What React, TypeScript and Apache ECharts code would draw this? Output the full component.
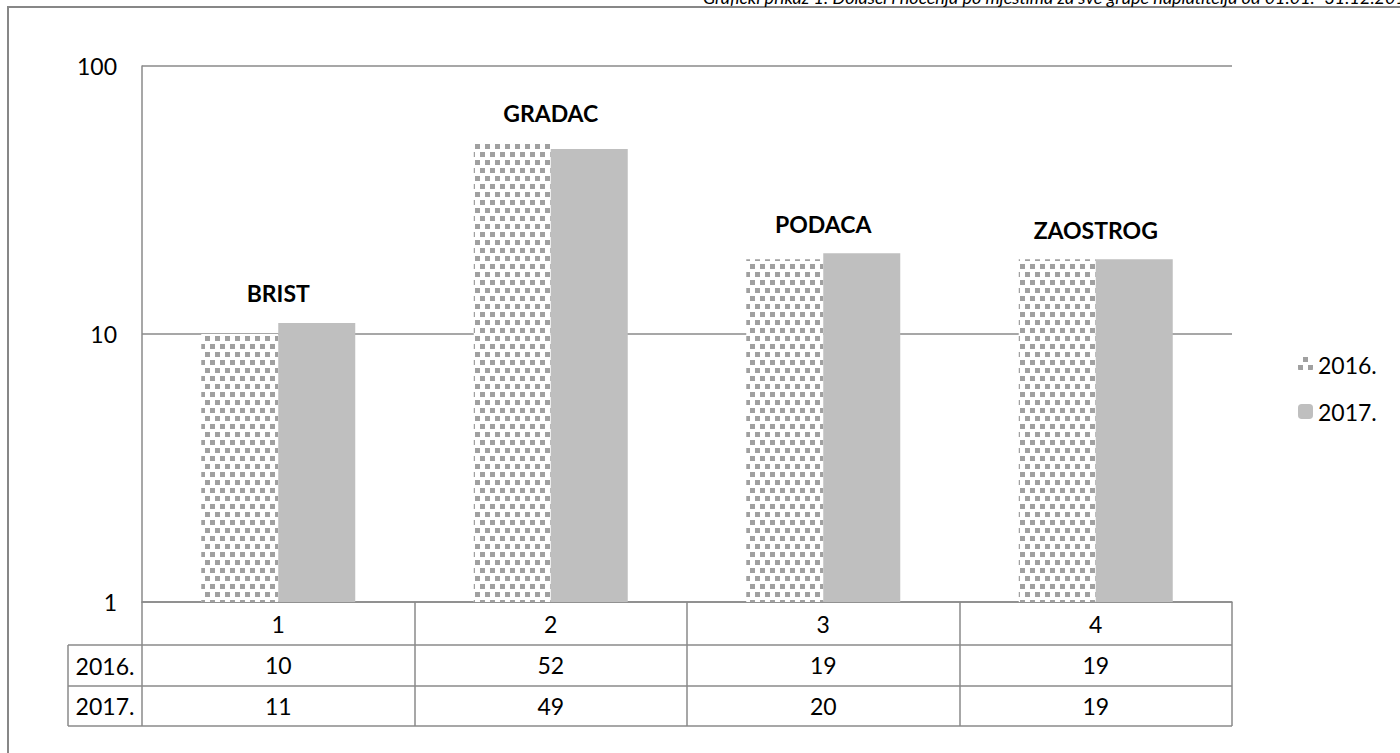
import React, { useEffect, useRef } from "react";
import * as echarts from "echarts";

const categories = ["1", "2", "3", "4"];
const placeNames = ["BRIST", "GRADAC", "PODACA", "ZAOSTROG"];
const seriesNames = ["2016.", "2017."];
const values2016 = [10, 52, 19, 19];
const values2017 = [11, 49, 20, 19];
const titleText =
  "Grafički prikaz 1. Dolasci i noćenja po mjestima za sve grupe naplatitelja od 01.01.- 31.12.2017.";

const FONT = "Lato, 'Open Sans', sans-serif";
const GRAY = "#8a8a8a";
const BAR_W = 77;

export default function App() {
  const ref = useRef<HTMLDivElement>(null);

  useEffect(() => {
    if (!ref.current) return;
    const chart = echarts.init(ref.current, undefined, { renderer: "svg" });

    const labelCfg = (i: number, side: number) => ({
      show: true,
      position: "top",
      distance: 18,
      offset: [side * (BAR_W / 2), 0],
      formatter: placeNames[i],
      fontFamily: FONT,
      fontWeight: "bold",
      fontSize: 23,
      color: "#000",
    });

    const data2016 = values2016.map((v, i) =>
      v > values2017[i] ? { value: v, label: labelCfg(i, 1) } : { value: v }
    );
    const data2017 = values2017.map((v, i) =>
      v >= values2016[i] ? { value: v, label: labelCfg(i, -1) } : { value: v }
    );

    const rowAxis = (vals: number[], offset: number, margin: number) => ({
      type: "category",
      data: vals.map(String),
      position: "bottom",
      offset,
      axisLine: { show: false },
      axisTick: { show: false },
      axisLabel: {
        margin,
        verticalAlign: "middle",
        fontFamily: FONT,
        fontSize: 23,
        color: "#000",
      },
    });

    const left = 68;
    const gridLeft = 142;
    const gridRight = 1232;
    const rowYs = [645, 686, 726];

    chart.setOption({
      animation: false,
      backgroundColor: "#ffffff",
      grid: { left: gridLeft, right: 1400 - gridRight, top: 66, bottom: 753 - 602 },
      legend: {
        orient: "vertical",
        left: 1293,
        top: 348,
        itemWidth: 15,
        itemHeight: 15,
        itemGap: 24,
        data: seriesNames,
        textStyle: { fontFamily: FONT, fontSize: 23, color: "#000" },
      },
      xAxis: [
        {
          type: "category",
          data: categories,
          position: "bottom",
          axisLine: { show: true, lineStyle: { color: GRAY, width: 1.5 } },
          axisTick: { show: true, length: 124, lineStyle: { color: GRAY, width: 1.5 } },
          axisLabel: {
            margin: 22,
            verticalAlign: "middle",
            fontFamily: FONT,
            fontSize: 23,
            color: "#000",
          },
        },
        rowAxis(values2016, 43, 20),
        rowAxis(values2017, 84, 20),
      ],
      yAxis: {
        type: "log",
        logBase: 10,
        min: 1,
        max: 100,
        axisLine: { show: true, lineStyle: { color: GRAY, width: 1.5 } },
        axisTick: { show: false },
        splitLine: { show: true, lineStyle: { color: GRAY, width: 1.5 } },
        axisLabel: { margin: 25, fontFamily: FONT, fontSize: 23, color: "#000" },
      },
      series: [
        {
          name: seriesNames[0],
          type: "bar",
          barWidth: BAR_W,
          barGap: "0%",
          data: data2016,
          itemStyle: {
            color: "#ffffff",
            decal: {
              symbol: "rect",
              symbolSize: 1,
              color: "#a0a0a0",
              backgroundColor: "#ffffff",
              dashArrayX: [
                [5, 5],
                [0, 5, 5, 0],
              ],
              dashArrayY: [5, 3],
              rotation: 0,
            },
          },
        },
        {
          name: seriesNames[1],
          type: "bar",
          barWidth: BAR_W,
          barGap: "0%",
          data: data2017,
          itemStyle: { color: "#bfbfbf" },
        },
      ],
      graphic: [
        {
          type: "rect",
          z: -10,
          shape: { x: 8, y: 7, width: 1600, height: 1000 },
          style: { fill: "none", stroke: "#878787", lineWidth: 2 },
        },
        {
          type: "text",
          x: 703,
          y: 6,
          style: {
            text: titleText,
            font: "italic 18px Lato, sans-serif",
            fill: "#000",
            verticalAlign: "bottom",
          },
        },
        ...rowYs.map((y) => ({
          type: "line",
          shape: { x1: left, y1: y, x2: gridRight, y2: y },
          style: { stroke: GRAY, lineWidth: 1.5 },
        })),
        {
          type: "line",
          shape: { x1: left, y1: rowYs[0], x2: left, y2: rowYs[2] },
          style: { stroke: GRAY, lineWidth: 1.5 },
        },
        ...seriesNames.map((n, i) => ({
          type: "text",
          x: (left + gridLeft) / 2,
          y: (rowYs[i] + rowYs[i + 1]) / 2,
          style: {
            text: n,
            font: "23px Lato, sans-serif",
            fill: "#000",
            align: "center",
            verticalAlign: "middle",
          },
        })),
      ],
    });

    return () => chart.dispose();
  }, []);

  return (
    <div
      ref={ref}
      style={{ position: "fixed", left: 0, top: 0, width: 1400, height: 753 }}
    />
  );
}
